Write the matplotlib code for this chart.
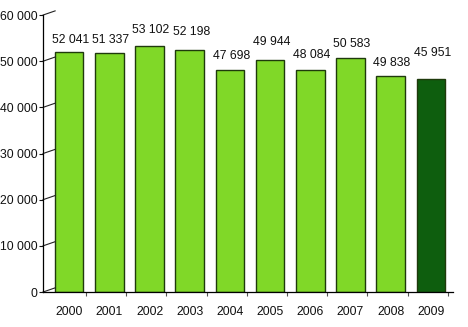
import matplotlib
matplotlib.use("Agg")
import matplotlib.pyplot as plt
from matplotlib.ticker import FuncFormatter

plt.rcParams['font.family'] = ['Liberation Sans', 'DejaVu Sans']

# Data
years = ['2000', '2001', '2002', '2003', '2004', '2005', '2006', '2007', '2008', '2009']
bar_heights = [52100, 51800, 53300, 52400, 48000, 50200, 48200, 50800, 46700, 46100]
value_labels = ['52 041', '51 337', '53 102', '52 198', '47 698',
                '49 944', '48 084', '50 583', '49 838', '45 951']
y_ticks = [0, 10000, 20000, 30000, 40000, 50000, 60000]

LIGHT = '#80d828'
DARK = '#0e5e0e'
EDGE = '#1f3a0c'

# gap (pixels) between bar top and label baseline, as placed in the original
label_gaps = [9, 10, 13, 15, 11, 15, 12, 11, 10, 23]


def thousands(v, pos):
    return f"{int(v):,}".replace(',', ' ')


fig = plt.figure(figsize=(4.68, 3.27), dpi=100)
ax = fig.add_axes([0.092, 0.107, 0.876, 0.847])

x = range(len(years))
colors = [LIGHT] * (len(years) - 1) + [DARK]
bars = ax.bar(x, bar_heights, width=0.71, color=colors, edgecolor=EDGE, linewidth=1.0)

for xi, h, lab, gap in zip(x, bar_heights, value_labels, label_gaps):
    ax.annotate(lab, (xi, h), xytext=(1, gap * 0.72), textcoords='offset points',
                ha='center', va='baseline', fontsize=8.8, color='#111111')

ax.set_xlim(-0.65, 9.55)
ax.set_ylim(0, 60000)
ax.set_yticks(y_ticks)
ax.yaxis.set_major_formatter(FuncFormatter(thousands))
ax.set_xticks(list(x))
ax.set_xticklabels(years)
ax.set_xticks([i + 0.42 for i in x], minor=True)

ax.tick_params(axis='y', direction='out', length=3, width=0.8, pad=1, labelsize=8.8, colors='#111111')
ax.tick_params(axis='x', which='major', length=0, pad=10, labelsize=8.8, colors='#111111')
ax.tick_params(axis='x', which='minor', direction='out', length=3, width=0.8, color='#555555')

for s in ['top', 'right']:
    ax.spines[s].set_visible(False)
ax.spines['left'].set_linewidth(0.9)
ax.spines['bottom'].set_linewidth(0.9)

# small diagonal stubs from the pseudo-3D back wall
for yv in y_ticks:
    ax.plot([-0.65, -0.35], [yv, yv + 900], color='#222222', lw=0.8, clip_on=False)

fig.savefig('out.png', dpi=100)
